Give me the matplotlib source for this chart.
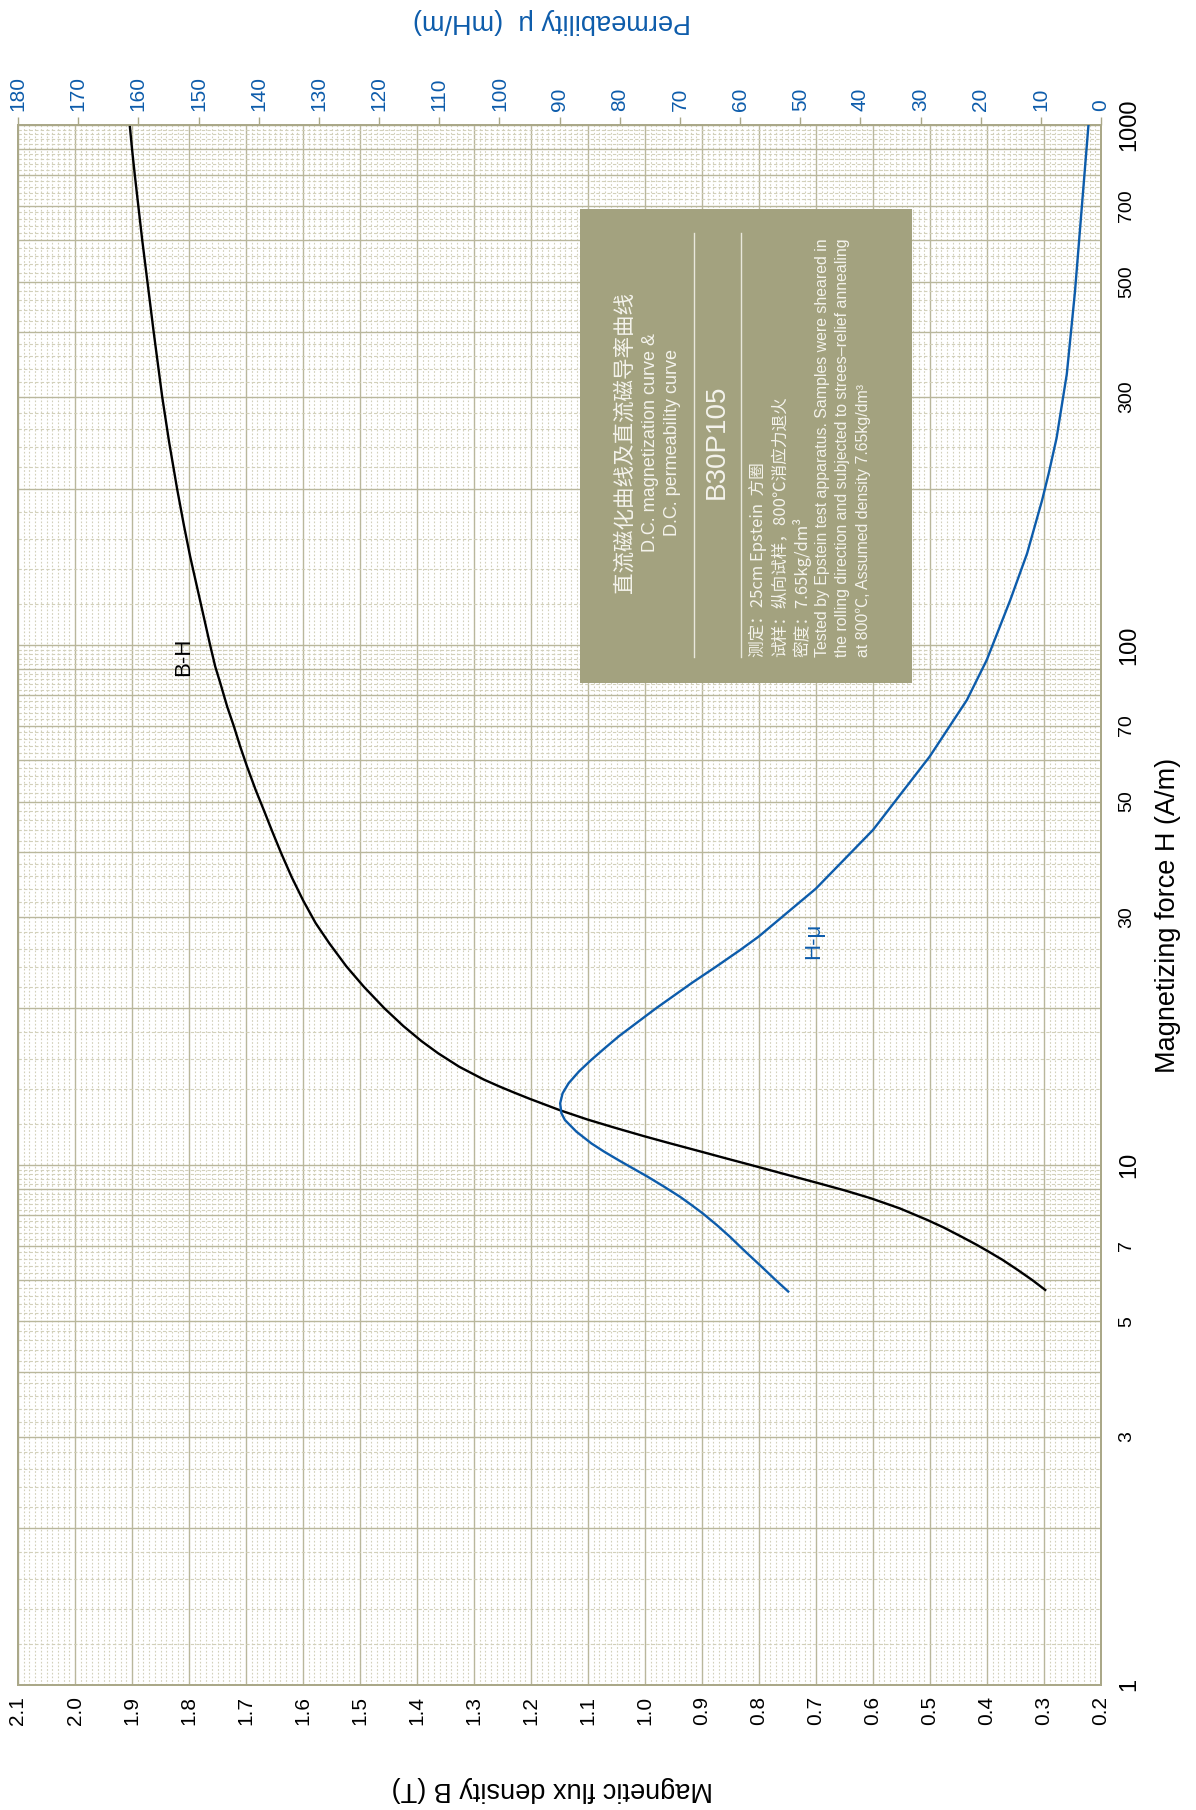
import numpy as np
import matplotlib
matplotlib.use('Agg')
import matplotlib.pyplot as plt
from matplotlib.patches import Rectangle
from matplotlib.lines import Line2D
from matplotlib.ticker import NullFormatter

plt.rcParams['font.family'] = ['Liberation Sans', 'Noto Sans CJK SC', 'DejaVu Sans']

# B-H curve (H in A/m, B in T)
H_bh = [5.75, 6.01, 6.28, 6.57, 6.81, 7.02, 7.28, 7.58, 7.84, 8.25, 8.63, 8.93,
        9.22, 9.57, 9.93, 10.29, 10.64, 11.02, 11.37, 11.81, 12.23, 12.74, 13.4, 13.77,
        14.15, 14.6, 15.45, 16.4, 17.3, 18.5, 20.0, 22.0, 24.1, 26.7, 29.2, 32.3,
        35.8, 39.7, 43.8, 48.2, 52.6, 58.3, 63.7, 69.6, 76.1, 84.4, 90.9, 100,
        121, 148, 170, 200, 246, 300, 400, 500, 600, 700, 800, 900, 1000]
B_bh = [0.298, 0.321, 0.346, 0.373, 0.397, 0.418, 0.445, 0.476, 0.505, 0.553, 0.604, 0.649,
        0.695, 0.750, 0.804, 0.857, 0.906, 0.958, 1.003, 1.055, 1.101, 1.149, 1.202, 1.229,
        1.255, 1.283, 1.326, 1.363, 1.392, 1.424, 1.457, 1.493, 1.524, 1.554, 1.578, 1.600,
        1.620, 1.638, 1.654, 1.669, 1.683, 1.698, 1.710, 1.721, 1.733, 1.745, 1.754, 1.763,
        1.780, 1.798, 1.809, 1.821, 1.835, 1.847, 1.862, 1.873, 1.882, 1.889, 1.895, 1.900, 1.904]

# H-mu curve (H in A/m, mu in mH/m)
H_mu = [5.71, 6.01, 6.37, 6.81, 7.28, 7.67, 8.07, 8.38, 8.69, 9.08, 9.5, 9.85,
        10.2, 10.61, 11.0, 11.59, 12.2, 12.58, 13.14, 13.73, 14.36, 15.12, 15.9, 16.77,
        17.7, 20.0, 22.4, 24.06, 25.9, 27.5, 34.0, 44.1, 61.0, 78.4, 93.6, 122,
        150, 190, 214, 250, 332, 477, 720, 1000]
mu = [52.0, 54.1, 56.4, 59.1, 61.7, 63.9, 66.2, 68.1, 70.0, 72.6, 75.4, 77.8,
      80.1, 82.6, 84.7, 87.2, 89.1, 89.7, 89.9, 89.5, 88.5, 86.8, 84.8, 82.5,
      80.1, 74.0, 68.0, 64.0, 60.0, 56.9, 47.4, 37.9, 28.5, 22.3, 19.0, 15.1,
      12.3, 9.8, 8.7, 7.4, 5.7, 4.35, 3.1, 2.1]

B_ticks = [0.2, 0.3, 0.4, 0.5, 0.6, 0.7, 0.8, 0.9, 1.0, 1.1, 1.2, 1.3, 1.4,
           1.5, 1.6, 1.7, 1.8, 1.9, 2.0, 2.1]
mu_ticks = [0, 10, 20, 30, 40, 50, 60, 70, 80, 90, 100, 110, 120, 130, 140,
            150, 160, 170, 180]
H_labels = [1, 3, 5, 7, 10, 30, 50, 70, 100, 300, 500, 700, 1000]
H_big = [1, 10, 100, 1000]

box_lines_title = ['直流磁化曲线及直流磁导率曲线', 'D.C. magnetization curve &', 'D.C. permeability curve']
grade = 'B30P105'
box_lines_notes = ['测定：25cm Epstein  方圈',
                   '试样：纵向试样，800℃消应力退火',
                   '密度：7.65kg/dm³',
                   'Tested by Epstein test apparatus. Samples were sheared in',
                   'the rolling direction and subjected to strees–relief annealing',
                   'at 800℃, Assumed density 7.65kg/dm³']

OLIVE = '#aaa888'
GRID_MAJ = '#b9b79c'
GRID_MIN = '#d2d0ba'
BOX = '#a3a27f'
BLUE = '#0d5cab'
BOXTXT = '#f4f3ec'

fig = plt.figure(figsize=(11.96, 18.10), dpi=100)
ax = fig.add_axes([0.01505, 0.0691, 0.9056, 0.8618])
ax.set_xlim(2.1, 0.2)
ax.set_yscale('log')
ax.set_ylim(1, 1000)

# log paper grid
h_major = [n * 10 ** k for k in range(3) for n in range(1, 10)] + [1000]
h_minor = [(n + 0.2 * j) * 10 ** k for k in range(3) for n in range(1, 10) for j in range(1, 5)]
ax.set_yticks(h_major)
ax.set_yticks(h_minor, minor=True)
ax.set_yticklabels([str(h) if h in H_labels else '' for h in h_major])
ax.yaxis.set_minor_formatter(NullFormatter())
ax.set_xticks(B_ticks)
ax.set_xticks(np.round(np.arange(0.2, 2.1, 0.01), 2), minor=True)
ax.set_xticklabels(['%.1f' % b for b in B_ticks])

ax.grid(which='major', color=GRID_MAJ, lw=1.0, ls='-')
ax.grid(which='minor', axis='x', color=GRID_MIN, lw=0.8, ls=(0, (1.5, 1.8)))
ax.grid(which='minor', axis='y', color=GRID_MIN, lw=0.8, ls=(0, (3, 2)))
ax.set_axisbelow(True)

ax.yaxis.tick_right()
ax.tick_params(which='both', length=0)
ax.tick_params(axis='x', labelrotation=90, labelsize=15, pad=8)
ax.tick_params(axis='y', labelrotation=90, pad=12)
for lbl in ax.get_yticklabels():
    lbl.set_va('center')
    if lbl.get_text() in [str(h) for h in H_big]:
        lbl.set_fontsize(17)
    else:
        lbl.set_fontsize(14)
        lbl.set_family(['Liberation Sans Narrow', 'Liberation Sans'])

for sp in ax.spines.values():
    sp.set_color(OLIVE)
    sp.set_linewidth(1.3)

ax.plot(B_bh, H_bh, color='black', lw=1.7, zorder=3, solid_joinstyle='round')
ax.text(1.81, 95, 'B-H', rotation=90, fontsize=16, ha='center', va='center', zorder=4)

ax2 = ax.twiny()
ax2.set_xlim(180, 0)
ax2.set_xticks(mu_ticks)
ax2.tick_params(axis='x', direction='out', length=6, width=1, color=OLIVE,
                labelcolor=BLUE, labelsize=15, labelrotation=90, pad=4)
for sp in ax2.spines.values():
    sp.set_color(OLIVE)
    sp.set_linewidth(1.3)
ax2.plot(mu, H_mu, color=BLUE, lw=1.7, zorder=3, solid_joinstyle='round')
ax2.text(47.7, 27, 'H-μ', rotation=90, fontsize=16, color=BLUE, ha='center', va='center')

# axis titles
fig.text(0.977, 0.4945, 'Magnetizing force H (A/m)', rotation=90, fontsize=19.5,
         ha='center', va='center')
fig.text(0.4615, 0.0116, 'Magnetic flux density B (T)', rotation=180, fontsize=19.5,
         ha='center', va='center')
fig.text(0.4615, 0.9884, 'Permeability μ  (mH/m)', rotation=180, fontsize=19.5,
         color=BLUE, ha='center', va='center')

# info box
fig.add_artist(Rectangle((0.485, 0.6227), 0.2776, 0.2619, transform=fig.transFigure,
                         facecolor=BOX, edgecolor='none', zorder=5))
for xf in [0.5803, 0.6196]:
    fig.add_artist(Line2D([xf, xf], [0.637, 0.8713], transform=fig.transFigure,
                          color='#e9e8dc', lw=1.0, zorder=6))

yc = 0.7558
fig.text(0.5226, yc, box_lines_title[0], rotation=90, fontsize=15.5, color=BOXTXT,
         family=['Noto Sans CJK SC', 'DejaVu Sans'], ha='center', va='center',
         rotation_mode='anchor', zorder=7)
fig.text(0.5435, yc, box_lines_title[1], rotation=90, fontsize=13, color=BOXTXT,
         ha='center', va='center', rotation_mode='anchor', zorder=7)
fig.text(0.5619, yc, box_lines_title[2], rotation=90, fontsize=13, color=BOXTXT,
         ha='center', va='center', rotation_mode='anchor', zorder=7)
fig.text(0.5995, yc, grade, rotation=90, fontsize=20, color=BOXTXT,
         ha='center', va='center', rotation_mode='anchor', zorder=7)

note_x = [0.6338, 0.6522, 0.6706, 0.6881, 0.7048, 0.7216]
for i, (xf, line) in enumerate(zip(note_x, box_lines_notes)):
    if i < 3:
        fam = ['Noto Sans CJK SC', 'DejaVu Sans']
        fs = 12
    else:
        fam = ['Liberation Sans', 'Noto Sans CJK SC']
        fs = 11.4
    fig.text(xf, 0.637, line, rotation=90, fontsize=fs, color=BOXTXT, family=fam,
             ha='left', va='center', rotation_mode='anchor', zorder=7)

fig.savefig('out.png', dpi=100, facecolor='white')
